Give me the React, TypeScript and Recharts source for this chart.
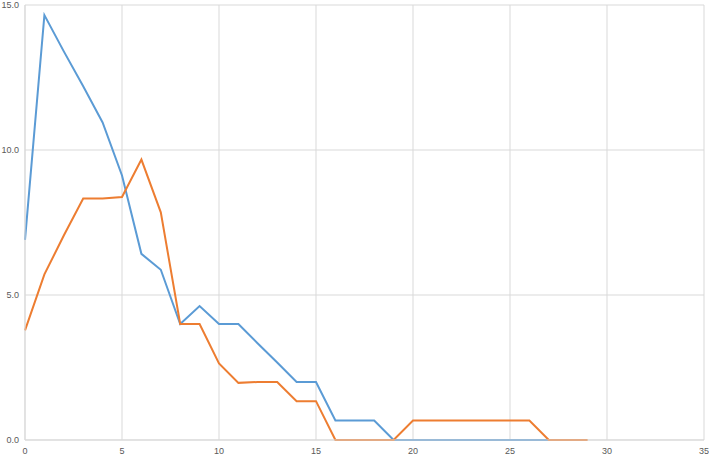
import { LineChart, Line, XAxis, YAxis, CartesianGrid } from 'recharts';

const xValues = [0, 1, 2, 3, 4, 5, 6, 7, 8, 9, 10, 11, 12, 13, 14, 15, 16, 17, 18, 19, 20, 21, 22, 23, 24, 25, 26, 27, 28, 29];
const blueSeries = [6.9, 14.65, 13.4, 12.2, 10.95, 9.12, 6.42, 5.87, 4.0, 4.62, 4.0, 4.0, 3.33, 2.67, 2.0, 2.0, 0.67, 0.67, 0.67, 0, 0, 0, 0, 0, 0, 0, 0, 0];
const orangeSeries = [3.78, 5.71, 7.05, 8.33, 8.33, 8.38, 9.67, 7.85, 4.0, 4.0, 2.64, 1.97, 2.0, 2.0, 1.34, 1.34, 0, 0, 0, 0, 0.67, 0.67, 0.67, 0.67, 0.67, 0.67, 0.67, 0, 0, 0];
const xTicks = [0, 5, 10, 15, 20, 25, 30, 35];
const yTicks = [0, 5, 10, 15];

const data = xValues.map((x, i) => ({ x, blue: blueSeries[i], orange: orangeSeries[i] }));

const tickStyle = { fontSize: 9, fill: '#595959', fontFamily: 'Liberation Sans, Arial, sans-serif' };

export default function App() {
  return (
    <div style={{ position: 'absolute', left: 0, top: 0, background: '#fff' }}>
      <LineChart width={709} height={455} data={data} margin={{ top: 5, right: 5, left: 0, bottom: 0 }}>
        <CartesianGrid stroke="#d9d9d9" />
        <XAxis
          dataKey="x"
          type="number"
          domain={[0, 35]}
          ticks={xTicks}
          tickLine={false}
          axisLine={{ stroke: '#d9d9d9' }}
          tick={tickStyle}
          height={15}
          tickMargin={2}
        />
        <YAxis
          type="number"
          domain={[0, 15]}
          ticks={yTicks}
          tickFormatter={(v: number) => v.toFixed(1)}
          tickLine={false}
          axisLine={{ stroke: '#d9d9d9' }}
          tick={tickStyle}
          width={25}
          tickMargin={0}
        />
        <Line type="linear" dataKey="blue" stroke="#5B9BD5" strokeWidth={2} dot={false} isAnimationActive={false} />
        <Line type="linear" dataKey="orange" stroke="#ED7D31" strokeWidth={2} dot={false} isAnimationActive={false} />
      </LineChart>
    </div>
  );
}
